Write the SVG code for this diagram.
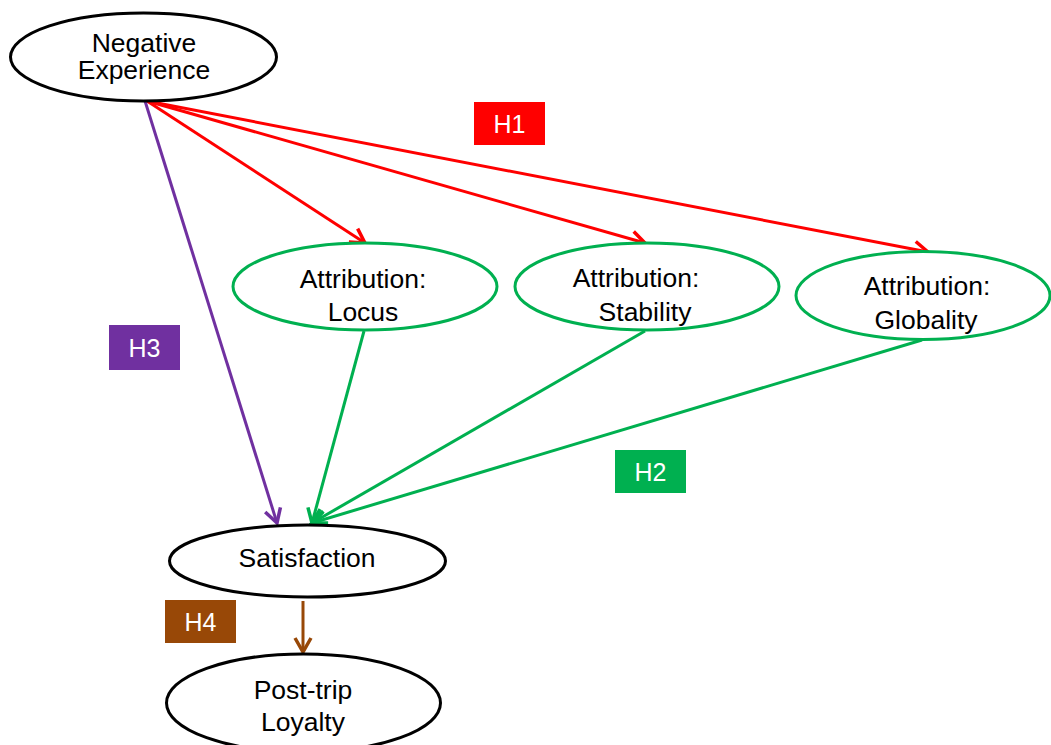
<svg xmlns="http://www.w3.org/2000/svg" width="1051" height="745" viewBox="0 0 1051 745">
<style>
.n{fill:#fff;stroke:#000;stroke-width:3}
.g{fill:#fff;stroke:#00B050;stroke-width:3}
.t{font-family:"Liberation Sans",Arial,sans-serif;font-size:26.5px;fill:#000;text-anchor:middle}
.l{font-family:"Liberation Sans",Arial,sans-serif;font-size:25px;fill:#fff;text-anchor:middle}
.c{fill:none;stroke-width:3}
</style>
<defs>
<marker id="ar" markerUnits="userSpaceOnUse" markerWidth="20" markerHeight="20" viewBox="0 0 20 20" refX="17" refY="10" orient="auto"><path d="M3,2 L17,10 L3,18" fill="none" stroke="#FF0000" stroke-width="3.5"/></marker>
<marker id="ap" markerUnits="userSpaceOnUse" markerWidth="20" markerHeight="20" viewBox="0 0 20 20" refX="17" refY="10" orient="auto"><path d="M3,2 L17,10 L3,18" fill="none" stroke="#7030A0" stroke-width="3.5"/></marker>
<marker id="ag" markerUnits="userSpaceOnUse" markerWidth="20" markerHeight="20" viewBox="0 0 20 20" refX="17" refY="10" orient="auto"><path d="M3,2 L17,10 L3,18" fill="none" stroke="#00B050" stroke-width="3.5"/></marker>
<marker id="ab" markerUnits="userSpaceOnUse" markerWidth="20" markerHeight="20" viewBox="0 0 20 20" refX="17" refY="10" orient="auto"><path d="M3,2 L17,10 L3,18" fill="none" stroke="#984807" stroke-width="3.5"/></marker>
</defs>
<rect width="1051" height="745" fill="#fff"/>
<g id="connectors">
<line class="c" x1="147" y1="101" x2="365" y2="243" stroke="#FF0000" marker-end="url(#ar)"/>
<line class="c" x1="147" y1="101" x2="645" y2="243" stroke="#FF0000" marker-end="url(#ar)"/>
<line class="c" x1="147" y1="101" x2="928" y2="252" stroke="#FF0000" marker-end="url(#ar)"/>
<line class="c" x1="145" y1="101" x2="277" y2="523" stroke="#7030A0" marker-end="url(#ap)"/>
<line class="c" x1="364" y1="331" x2="312" y2="523" stroke="#00B050" marker-end="url(#ag)"/>
<line class="c" x1="645" y1="331" x2="312" y2="523" stroke="#00B050" marker-end="url(#ag)"/>
<line class="c" x1="922" y1="340" x2="312" y2="523" stroke="#00B050" marker-end="url(#ag)"/>
<line class="c" x1="303" y1="601" x2="303" y2="652" stroke="#984807" marker-end="url(#ab)"/>
</g>
<g id="negative-experience">
<ellipse class="n" cx="143.5" cy="57" rx="133" ry="44"/>
<text class="t" x="144" y="52">Negative</text>
<text class="t" x="144" y="79">Experience</text>
</g>
<g id="attribution-locus">
<ellipse class="g" cx="365" cy="286.5" rx="132" ry="43.5"/>
<text class="t" x="363" y="288">Attribution:</text>
<text class="t" x="363" y="321">Locus</text>
</g>
<g id="attribution-stability">
<ellipse class="g" cx="647" cy="286.5" rx="132" ry="43.5"/>
<text class="t" x="636" y="287">Attribution:</text>
<text class="t" x="645" y="321">Stability</text>
</g>
<g id="attribution-globality">
<ellipse class="g" cx="923" cy="295.5" rx="127" ry="44"/>
<text class="t" x="927" y="295">Attribution:</text>
<text class="t" x="926" y="329">Globality</text>
</g>
<g id="satisfaction">
<ellipse class="n" cx="307.5" cy="561" rx="138" ry="36"/>
<text class="t" x="307" y="567">Satisfaction</text>
</g>
<g id="post-trip-loyalty">
<ellipse class="n" cx="303.5" cy="703" rx="137" ry="49"/>
<text class="t" x="303" y="699">Post-trip</text>
<text class="t" x="303" y="731">Loyalty</text>
</g>
<g id="label-h1">
<rect x="474" y="102" width="71" height="43" fill="#FF0000"/>
<text class="l" x="509.5" y="133">H1</text>
</g>
<g id="label-h2">
<rect x="615" y="450" width="71" height="43" fill="#00B050"/>
<text class="l" x="650.5" y="481">H2</text>
</g>
<g id="label-h3">
<rect x="109" y="325" width="71" height="45" fill="#7030A0"/>
<text class="l" x="144.5" y="357">H3</text>
</g>
<g id="label-h4">
<rect x="165" y="600" width="71" height="43" fill="#984807"/>
<text class="l" x="200.5" y="631">H4</text>
</g>
</svg>
